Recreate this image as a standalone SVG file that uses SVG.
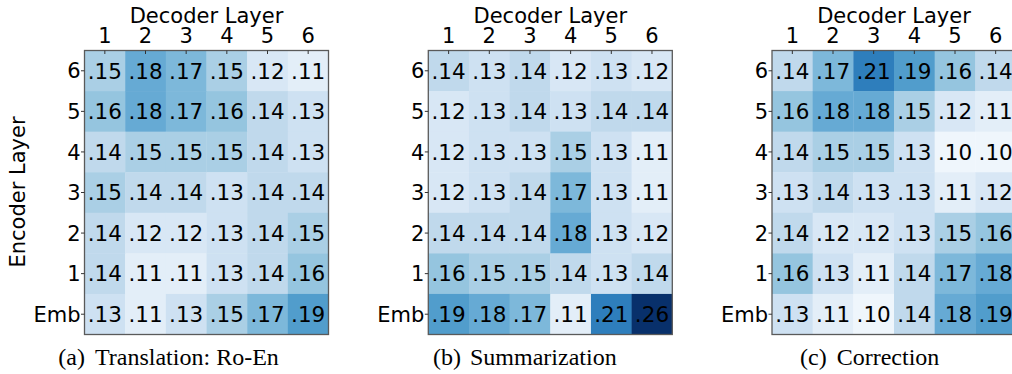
<svg xmlns="http://www.w3.org/2000/svg" width="1012" height="374" viewBox="0 0 1012 374">
<style>
.lbl{font-family:"DejaVu Sans",sans-serif;font-size:21px;fill:#000}
.tk{font-family:"DejaVu Sans",sans-serif;font-size:21px;fill:#000}
.row{text-anchor:end}
.col{text-anchor:middle}
.val{font-family:"DejaVu Sans",sans-serif;font-size:21.5px;fill:#000;text-anchor:middle}
.cap{font-family:"Liberation Serif","Times New Roman",serif;font-size:24px;fill:#000}
.frame{fill:none;stroke:#5a5a5a;stroke-width:1.3}
.tick{stroke:#333;stroke-width:1}
.v10{fill:#eff6fc}.v11{fill:#e3eef8}.v12{fill:#d8e7f5}.v13{fill:#cee1f2}.v14{fill:#c0d9ec}
.v15{fill:#aacfe5}.v16{fill:#95c5df}.v17{fill:#7db8da}.v18{fill:#66aad4}.v19{fill:#519dcc}
.v21{fill:#2e7ebc}.v26{fill:#08306b}
</style>
<defs>
<g id="ticks">
<path class="tick" d="M20.33 0V3.5M61 0V3.5M101.67 0V3.5M142.33 0V3.5M183 0V3.5M223.67 0V3.5"/>
<path class="tick" d="M-3.5 20.29H0M-3.5 60.86H0M-3.5 101.43H0M-3.5 142H0M-3.5 182.57H0M-3.5 223.14H0M-3.5 263.71H0"/>
</g>
<g id="axlabels">
<text class="lbl col" x="122" y="-27.8">Decoder Layer</text>
<text class="tk col" x="20.33" y="-7.3">1</text>
<text class="tk col" x="61" y="-7.3">2</text>
<text class="tk col" x="101.67" y="-7.3">3</text>
<text class="tk col" x="142.33" y="-7.3">4</text>
<text class="tk col" x="183" y="-7.3">5</text>
<text class="tk col" x="223.67" y="-7.3">6</text>
<text class="tk row" x="-4" y="27.9">6</text>
<text class="tk row" x="-4" y="68.5">5</text>
<text class="tk row" x="-4" y="109">4</text>
<text class="tk row" x="-4" y="149.6">3</text>
<text class="tk row" x="-4" y="190.2">2</text>
<text class="tk row" x="-4" y="230.7">1</text>
<text class="tk row" x="-4" y="271.3">Emb</text>
</g>
</defs>

<text class="lbl col" x="25" y="192" transform="rotate(-90 25 192)">Encoder Layer</text>

<g id="panel-a" transform="translate(84.5 50.5)">
<rect class="v15" x="0" y="0" width="41" height="41"/><rect class="v18" x="40.67" y="0" width="41" height="41"/><rect class="v17" x="81.33" y="0" width="41" height="41"/><rect class="v15" x="122" y="0" width="41" height="41"/><rect class="v12" x="162.67" y="0" width="41" height="41"/><rect class="v11" x="203.33" y="0" width="40.67" height="41"/>
<rect class="v16" x="0" y="40.57" width="41" height="41"/><rect class="v18" x="40.67" y="40.57" width="41" height="41"/><rect class="v17" x="81.33" y="40.57" width="41" height="41"/><rect class="v16" x="122" y="40.57" width="41" height="41"/><rect class="v14" x="162.67" y="40.57" width="41" height="41"/><rect class="v13" x="203.33" y="40.57" width="40.67" height="41"/>
<rect class="v14" x="0" y="81.14" width="41" height="41"/><rect class="v15" x="40.67" y="81.14" width="41" height="41"/><rect class="v15" x="81.33" y="81.14" width="41" height="41"/><rect class="v15" x="122" y="81.14" width="41" height="41"/><rect class="v14" x="162.67" y="81.14" width="41" height="41"/><rect class="v13" x="203.33" y="81.14" width="40.67" height="41"/>
<rect class="v15" x="0" y="121.71" width="41" height="41"/><rect class="v14" x="40.67" y="121.71" width="41" height="41"/><rect class="v14" x="81.33" y="121.71" width="41" height="41"/><rect class="v13" x="122" y="121.71" width="41" height="41"/><rect class="v14" x="162.67" y="121.71" width="41" height="41"/><rect class="v14" x="203.33" y="121.71" width="40.67" height="41"/>
<rect class="v14" x="0" y="162.29" width="41" height="41"/><rect class="v12" x="40.67" y="162.29" width="41" height="41"/><rect class="v12" x="81.33" y="162.29" width="41" height="41"/><rect class="v13" x="122" y="162.29" width="41" height="41"/><rect class="v14" x="162.67" y="162.29" width="41" height="41"/><rect class="v15" x="203.33" y="162.29" width="40.67" height="41"/>
<rect class="v14" x="0" y="202.86" width="41" height="41"/><rect class="v11" x="40.67" y="202.86" width="41" height="41"/><rect class="v11" x="81.33" y="202.86" width="41" height="41"/><rect class="v13" x="122" y="202.86" width="41" height="41"/><rect class="v14" x="162.67" y="202.86" width="41" height="41"/><rect class="v16" x="203.33" y="202.86" width="40.67" height="41"/>
<rect class="v13" x="0" y="243.43" width="41" height="40.57"/><rect class="v11" x="40.67" y="243.43" width="41" height="40.57"/><rect class="v13" x="81.33" y="243.43" width="41" height="40.57"/><rect class="v15" x="122" y="243.43" width="41" height="40.57"/><rect class="v17" x="162.67" y="243.43" width="41" height="40.57"/><rect class="v19" x="203.33" y="243.43" width="40.67" height="40.57"/>
<rect class="frame" x="0" y="0" width="244" height="284"/>
<use href="#ticks"/>
<use href="#axlabels"/>
<g>
<text class="val" x="20.33" y="28.1">.15</text><text class="val" x="61" y="28.1">.18</text><text class="val" x="101.67" y="28.1">.17</text><text class="val" x="142.33" y="28.1">.15</text><text class="val" x="183" y="28.1">.12</text><text class="val" x="223.67" y="28.1">.11</text>
<text class="val" x="20.33" y="68.7">.16</text><text class="val" x="61" y="68.7">.18</text><text class="val" x="101.67" y="68.7">.17</text><text class="val" x="142.33" y="68.7">.16</text><text class="val" x="183" y="68.7">.14</text><text class="val" x="223.67" y="68.7">.13</text>
<text class="val" x="20.33" y="109.2">.14</text><text class="val" x="61" y="109.2">.15</text><text class="val" x="101.67" y="109.2">.15</text><text class="val" x="142.33" y="109.2">.15</text><text class="val" x="183" y="109.2">.14</text><text class="val" x="223.67" y="109.2">.13</text>
<text class="val" x="20.33" y="149.8">.15</text><text class="val" x="61" y="149.8">.14</text><text class="val" x="101.67" y="149.8">.14</text><text class="val" x="142.33" y="149.8">.13</text><text class="val" x="183" y="149.8">.14</text><text class="val" x="223.67" y="149.8">.14</text>
<text class="val" x="20.33" y="190.4">.14</text><text class="val" x="61" y="190.4">.12</text><text class="val" x="101.67" y="190.4">.12</text><text class="val" x="142.33" y="190.4">.13</text><text class="val" x="183" y="190.4">.14</text><text class="val" x="223.67" y="190.4">.15</text>
<text class="val" x="20.33" y="230.9">.14</text><text class="val" x="61" y="230.9">.11</text><text class="val" x="101.67" y="230.9">.11</text><text class="val" x="142.33" y="230.9">.13</text><text class="val" x="183" y="230.9">.14</text><text class="val" x="223.67" y="230.9">.16</text>
<text class="val" x="20.33" y="271.5">.13</text><text class="val" x="61" y="271.5">.11</text><text class="val" x="101.67" y="271.5">.13</text><text class="val" x="142.33" y="271.5">.15</text><text class="val" x="183" y="271.5">.17</text><text class="val" x="223.67" y="271.5">.19</text>
</g>
</g>

<g id="panel-b" transform="translate(428.3 50.5)">
<rect class="v14" x="0" y="0" width="41" height="41"/><rect class="v13" x="40.67" y="0" width="41" height="41"/><rect class="v14" x="81.33" y="0" width="41" height="41"/><rect class="v12" x="122" y="0" width="41" height="41"/><rect class="v13" x="162.67" y="0" width="41" height="41"/><rect class="v12" x="203.33" y="0" width="40.67" height="41"/>
<rect class="v12" x="0" y="40.57" width="41" height="41"/><rect class="v13" x="40.67" y="40.57" width="41" height="41"/><rect class="v14" x="81.33" y="40.57" width="41" height="41"/><rect class="v13" x="122" y="40.57" width="41" height="41"/><rect class="v14" x="162.67" y="40.57" width="41" height="41"/><rect class="v14" x="203.33" y="40.57" width="40.67" height="41"/>
<rect class="v12" x="0" y="81.14" width="41" height="41"/><rect class="v13" x="40.67" y="81.14" width="41" height="41"/><rect class="v13" x="81.33" y="81.14" width="41" height="41"/><rect class="v15" x="122" y="81.14" width="41" height="41"/><rect class="v13" x="162.67" y="81.14" width="41" height="41"/><rect class="v11" x="203.33" y="81.14" width="40.67" height="41"/>
<rect class="v12" x="0" y="121.71" width="41" height="41"/><rect class="v13" x="40.67" y="121.71" width="41" height="41"/><rect class="v14" x="81.33" y="121.71" width="41" height="41"/><rect class="v17" x="122" y="121.71" width="41" height="41"/><rect class="v13" x="162.67" y="121.71" width="41" height="41"/><rect class="v11" x="203.33" y="121.71" width="40.67" height="41"/>
<rect class="v14" x="0" y="162.29" width="41" height="41"/><rect class="v14" x="40.67" y="162.29" width="41" height="41"/><rect class="v14" x="81.33" y="162.29" width="41" height="41"/><rect class="v18" x="122" y="162.29" width="41" height="41"/><rect class="v13" x="162.67" y="162.29" width="41" height="41"/><rect class="v12" x="203.33" y="162.29" width="40.67" height="41"/>
<rect class="v16" x="0" y="202.86" width="41" height="41"/><rect class="v15" x="40.67" y="202.86" width="41" height="41"/><rect class="v15" x="81.33" y="202.86" width="41" height="41"/><rect class="v14" x="122" y="202.86" width="41" height="41"/><rect class="v13" x="162.67" y="202.86" width="41" height="41"/><rect class="v14" x="203.33" y="202.86" width="40.67" height="41"/>
<rect class="v19" x="0" y="243.43" width="41" height="40.57"/><rect class="v18" x="40.67" y="243.43" width="41" height="40.57"/><rect class="v17" x="81.33" y="243.43" width="41" height="40.57"/><rect class="v11" x="122" y="243.43" width="41" height="40.57"/><rect class="v21" x="162.67" y="243.43" width="41" height="40.57"/><rect class="v26" x="203.33" y="243.43" width="40.67" height="40.57"/>
<rect class="frame" x="0" y="0" width="244" height="284"/>
<use href="#ticks"/>
<use href="#axlabels"/>
<g>
<text class="val" x="20.33" y="28.1">.14</text><text class="val" x="61" y="28.1">.13</text><text class="val" x="101.67" y="28.1">.14</text><text class="val" x="142.33" y="28.1">.12</text><text class="val" x="183" y="28.1">.13</text><text class="val" x="223.67" y="28.1">.12</text>
<text class="val" x="20.33" y="68.7">.12</text><text class="val" x="61" y="68.7">.13</text><text class="val" x="101.67" y="68.7">.14</text><text class="val" x="142.33" y="68.7">.13</text><text class="val" x="183" y="68.7">.14</text><text class="val" x="223.67" y="68.7">.14</text>
<text class="val" x="20.33" y="109.2">.12</text><text class="val" x="61" y="109.2">.13</text><text class="val" x="101.67" y="109.2">.13</text><text class="val" x="142.33" y="109.2">.15</text><text class="val" x="183" y="109.2">.13</text><text class="val" x="223.67" y="109.2">.11</text>
<text class="val" x="20.33" y="149.8">.12</text><text class="val" x="61" y="149.8">.13</text><text class="val" x="101.67" y="149.8">.14</text><text class="val" x="142.33" y="149.8">.17</text><text class="val" x="183" y="149.8">.13</text><text class="val" x="223.67" y="149.8">.11</text>
<text class="val" x="20.33" y="190.4">.14</text><text class="val" x="61" y="190.4">.14</text><text class="val" x="101.67" y="190.4">.14</text><text class="val" x="142.33" y="190.4">.18</text><text class="val" x="183" y="190.4">.13</text><text class="val" x="223.67" y="190.4">.12</text>
<text class="val" x="20.33" y="230.9">.16</text><text class="val" x="61" y="230.9">.15</text><text class="val" x="101.67" y="230.9">.15</text><text class="val" x="142.33" y="230.9">.14</text><text class="val" x="183" y="230.9">.13</text><text class="val" x="223.67" y="230.9">.14</text>
<text class="val" x="20.33" y="271.5">.19</text><text class="val" x="61" y="271.5">.18</text><text class="val" x="101.67" y="271.5">.17</text><text class="val" x="142.33" y="271.5">.11</text><text class="val" x="183" y="271.5">.21</text><text class="val" x="223.67" y="271.5">.26</text>
</g>
</g>

<g id="panel-c" transform="translate(772 50.5)">
<rect class="v14" x="0" y="0" width="41" height="41"/><rect class="v17" x="40.67" y="0" width="41" height="41"/><rect class="v21" x="81.33" y="0" width="41" height="41"/><rect class="v19" x="122" y="0" width="41" height="41"/><rect class="v16" x="162.67" y="0" width="41" height="41"/><rect class="v14" x="203.33" y="0" width="40.67" height="41"/>
<rect class="v16" x="0" y="40.57" width="41" height="41"/><rect class="v18" x="40.67" y="40.57" width="41" height="41"/><rect class="v18" x="81.33" y="40.57" width="41" height="41"/><rect class="v15" x="122" y="40.57" width="41" height="41"/><rect class="v12" x="162.67" y="40.57" width="41" height="41"/><rect class="v11" x="203.33" y="40.57" width="40.67" height="41"/>
<rect class="v14" x="0" y="81.14" width="41" height="41"/><rect class="v15" x="40.67" y="81.14" width="41" height="41"/><rect class="v15" x="81.33" y="81.14" width="41" height="41"/><rect class="v13" x="122" y="81.14" width="41" height="41"/><rect class="v10" x="162.67" y="81.14" width="41" height="41"/><rect class="v10" x="203.33" y="81.14" width="40.67" height="41"/>
<rect class="v13" x="0" y="121.71" width="41" height="41"/><rect class="v14" x="40.67" y="121.71" width="41" height="41"/><rect class="v13" x="81.33" y="121.71" width="41" height="41"/><rect class="v13" x="122" y="121.71" width="41" height="41"/><rect class="v11" x="162.67" y="121.71" width="41" height="41"/><rect class="v12" x="203.33" y="121.71" width="40.67" height="41"/>
<rect class="v14" x="0" y="162.29" width="41" height="41"/><rect class="v12" x="40.67" y="162.29" width="41" height="41"/><rect class="v12" x="81.33" y="162.29" width="41" height="41"/><rect class="v13" x="122" y="162.29" width="41" height="41"/><rect class="v15" x="162.67" y="162.29" width="41" height="41"/><rect class="v16" x="203.33" y="162.29" width="40.67" height="41"/>
<rect class="v16" x="0" y="202.86" width="41" height="41"/><rect class="v13" x="40.67" y="202.86" width="41" height="41"/><rect class="v11" x="81.33" y="202.86" width="41" height="41"/><rect class="v14" x="122" y="202.86" width="41" height="41"/><rect class="v17" x="162.67" y="202.86" width="41" height="41"/><rect class="v18" x="203.33" y="202.86" width="40.67" height="41"/>
<rect class="v13" x="0" y="243.43" width="41" height="40.57"/><rect class="v11" x="40.67" y="243.43" width="41" height="40.57"/><rect class="v10" x="81.33" y="243.43" width="41" height="40.57"/><rect class="v14" x="122" y="243.43" width="41" height="40.57"/><rect class="v18" x="162.67" y="243.43" width="41" height="40.57"/><rect class="v19" x="203.33" y="243.43" width="40.67" height="40.57"/>
<rect class="frame" x="0" y="0" width="244" height="284"/>
<use href="#ticks"/>
<use href="#axlabels"/>
<g>
<text class="val" x="20.33" y="28.1">.14</text><text class="val" x="61" y="28.1">.17</text><text class="val" x="101.67" y="28.1">.21</text><text class="val" x="142.33" y="28.1">.19</text><text class="val" x="183" y="28.1">.16</text><text class="val" x="223.67" y="28.1">.14</text>
<text class="val" x="20.33" y="68.7">.16</text><text class="val" x="61" y="68.7">.18</text><text class="val" x="101.67" y="68.7">.18</text><text class="val" x="142.33" y="68.7">.15</text><text class="val" x="183" y="68.7">.12</text><text class="val" x="223.67" y="68.7">.11</text>
<text class="val" x="20.33" y="109.2">.14</text><text class="val" x="61" y="109.2">.15</text><text class="val" x="101.67" y="109.2">.15</text><text class="val" x="142.33" y="109.2">.13</text><text class="val" x="183" y="109.2">.10</text><text class="val" x="223.67" y="109.2">.10</text>
<text class="val" x="20.33" y="149.8">.13</text><text class="val" x="61" y="149.8">.14</text><text class="val" x="101.67" y="149.8">.13</text><text class="val" x="142.33" y="149.8">.13</text><text class="val" x="183" y="149.8">.11</text><text class="val" x="223.67" y="149.8">.12</text>
<text class="val" x="20.33" y="190.4">.14</text><text class="val" x="61" y="190.4">.12</text><text class="val" x="101.67" y="190.4">.12</text><text class="val" x="142.33" y="190.4">.13</text><text class="val" x="183" y="190.4">.15</text><text class="val" x="223.67" y="190.4">.16</text>
<text class="val" x="20.33" y="230.9">.16</text><text class="val" x="61" y="230.9">.13</text><text class="val" x="101.67" y="230.9">.11</text><text class="val" x="142.33" y="230.9">.14</text><text class="val" x="183" y="230.9">.17</text><text class="val" x="223.67" y="230.9">.18</text>
<text class="val" x="20.33" y="271.5">.13</text><text class="val" x="61" y="271.5">.11</text><text class="val" x="101.67" y="271.5">.10</text><text class="val" x="142.33" y="271.5">.14</text><text class="val" x="183" y="271.5">.18</text><text class="val" x="223.67" y="271.5">.19</text>
</g>
</g>

<g id="captions">
<text class="cap" y="365"><tspan x="58.3">(a)</tspan><tspan x="95">Translation: Ro-En</tspan></text>
<text class="cap" y="365"><tspan x="433">(b)</tspan><tspan x="470">Summarization</tspan></text>
<text class="cap" y="365"><tspan x="800">(c)</tspan><tspan x="836.7">Correction</tspan></text>
</g>
</svg>
